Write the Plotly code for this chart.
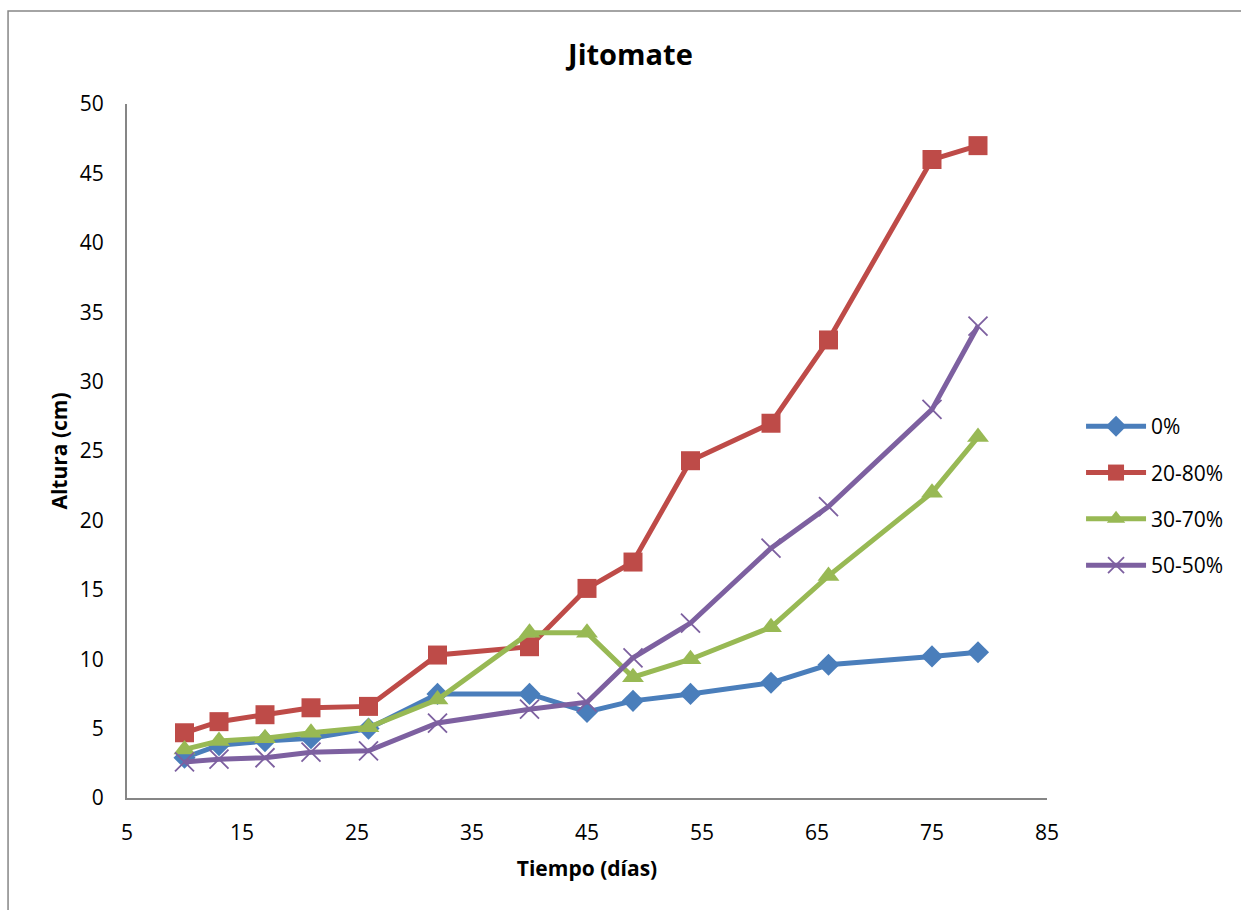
import plotly.graph_objects as go

# Days after transplant
dias = [10, 13, 17, 21, 26, 32, 40, 45, 49, 54, 61, 66, 75, 79]

# Plant height (cm) per substrate mix
serie_0 = [2.9, 3.8, 4.1, 4.3, 5.0, 7.5, 7.5, 6.2, 7.0, 7.5, 8.3, 9.6, 10.2, 10.5]
serie_20_80 = [4.7, 5.5, 6.0, 6.5, 6.6, 10.3, 10.9, 15.1, 17.0, 24.3, 27.0, 33.0, 46.0, 47.0]
serie_30_70 = [3.5, 4.1, 4.3, 4.7, 5.1, 7.1, 11.9, 11.9, 8.7, 10.0, 12.3, 16.0, 22.0, 26.0]
serie_50_50 = [2.6, 2.8, 2.9, 3.3, 3.4, 5.4, 6.4, 6.9, 10.1, 12.6, 18.0, 21.0, 28.0, 34.0]

nombres = ["0%", "20-80%", "30-70%", "50-50%"]
colores = ["#4A7EBB", "#BE4B48", "#98B954", "#7D60A0"]

FONT = "Open Sans"

fig = go.Figure()

estilos = [
    (serie_0, dict(symbol="diamond", size=17, color=colores[0])),
    (serie_20_80, dict(symbol="square", size=19, color=colores[1])),
    (serie_30_70, dict(symbol="triangle-up", size=19, color=colores[2])),
    (serie_50_50, dict(symbol="x-thin-open", size=19, color=colores[3],
                       line=dict(width=1.8, color=colores[3]))),
]

for nombre, color, (valores, marcador) in zip(nombres, colores, estilos):
    fig.add_trace(go.Scatter(
        x=dias, y=valores, name=nombre, legendgroup=nombre,
        mode="lines+markers",
        line=dict(color=color, width=5),
        marker=marcador,
    ))

fig.update_layout(
    width=1241, height=910,
    paper_bgcolor="white", plot_bgcolor="white",
    margin=dict(l=127, r=194, t=104, b=112, autoexpand=False),
    font=dict(family=FONT, size=21, color="black"),
    title=dict(text="<b>Jitomate</b>", x=0.508, xanchor="center",
               y=0.94, yanchor="middle", font=dict(size=29, family=FONT)),
    legend=dict(x=1.037, y=0.435, xanchor="left", yanchor="middle",
                font=dict(size=21, family=FONT), tracegroupgap=16,
                itemwidth=60, bgcolor="rgba(0,0,0,0)"),
    showlegend=True,
)

fig.update_xaxes(
    range=[5, 85], tickvals=list(range(5, 86, 10)),
    showline=True, linecolor="#868686", linewidth=2,
    showgrid=False, zeroline=False, ticks="", ticklen=0,
    ticklabelstandoff=15,
    tickfont=dict(size=21), title=dict(text="<b>Tiempo (días)</b>",
                                       font=dict(size=21), standoff=16),
)
fig.update_yaxes(
    range=[0, 50], tickvals=list(range(0, 51, 5)),
    showline=True, linecolor="#868686", linewidth=2,
    showgrid=False, zeroline=False, ticks="", ticklen=0,
    ticklabelstandoff=17,
    tickfont=dict(size=21), title=dict(text="<b>Altura (cm)</b>",
                                       font=dict(size=21), standoff=6),
)

# Chart frame
fig.add_shape(type="rect", xref="paper", yref="paper",
              x0=-0.1293, x1=1.3, y0=-0.17, y1=1.134,
              line=dict(color="#868686", width=1.5), layer="below")

fig.write_html("out.html")
